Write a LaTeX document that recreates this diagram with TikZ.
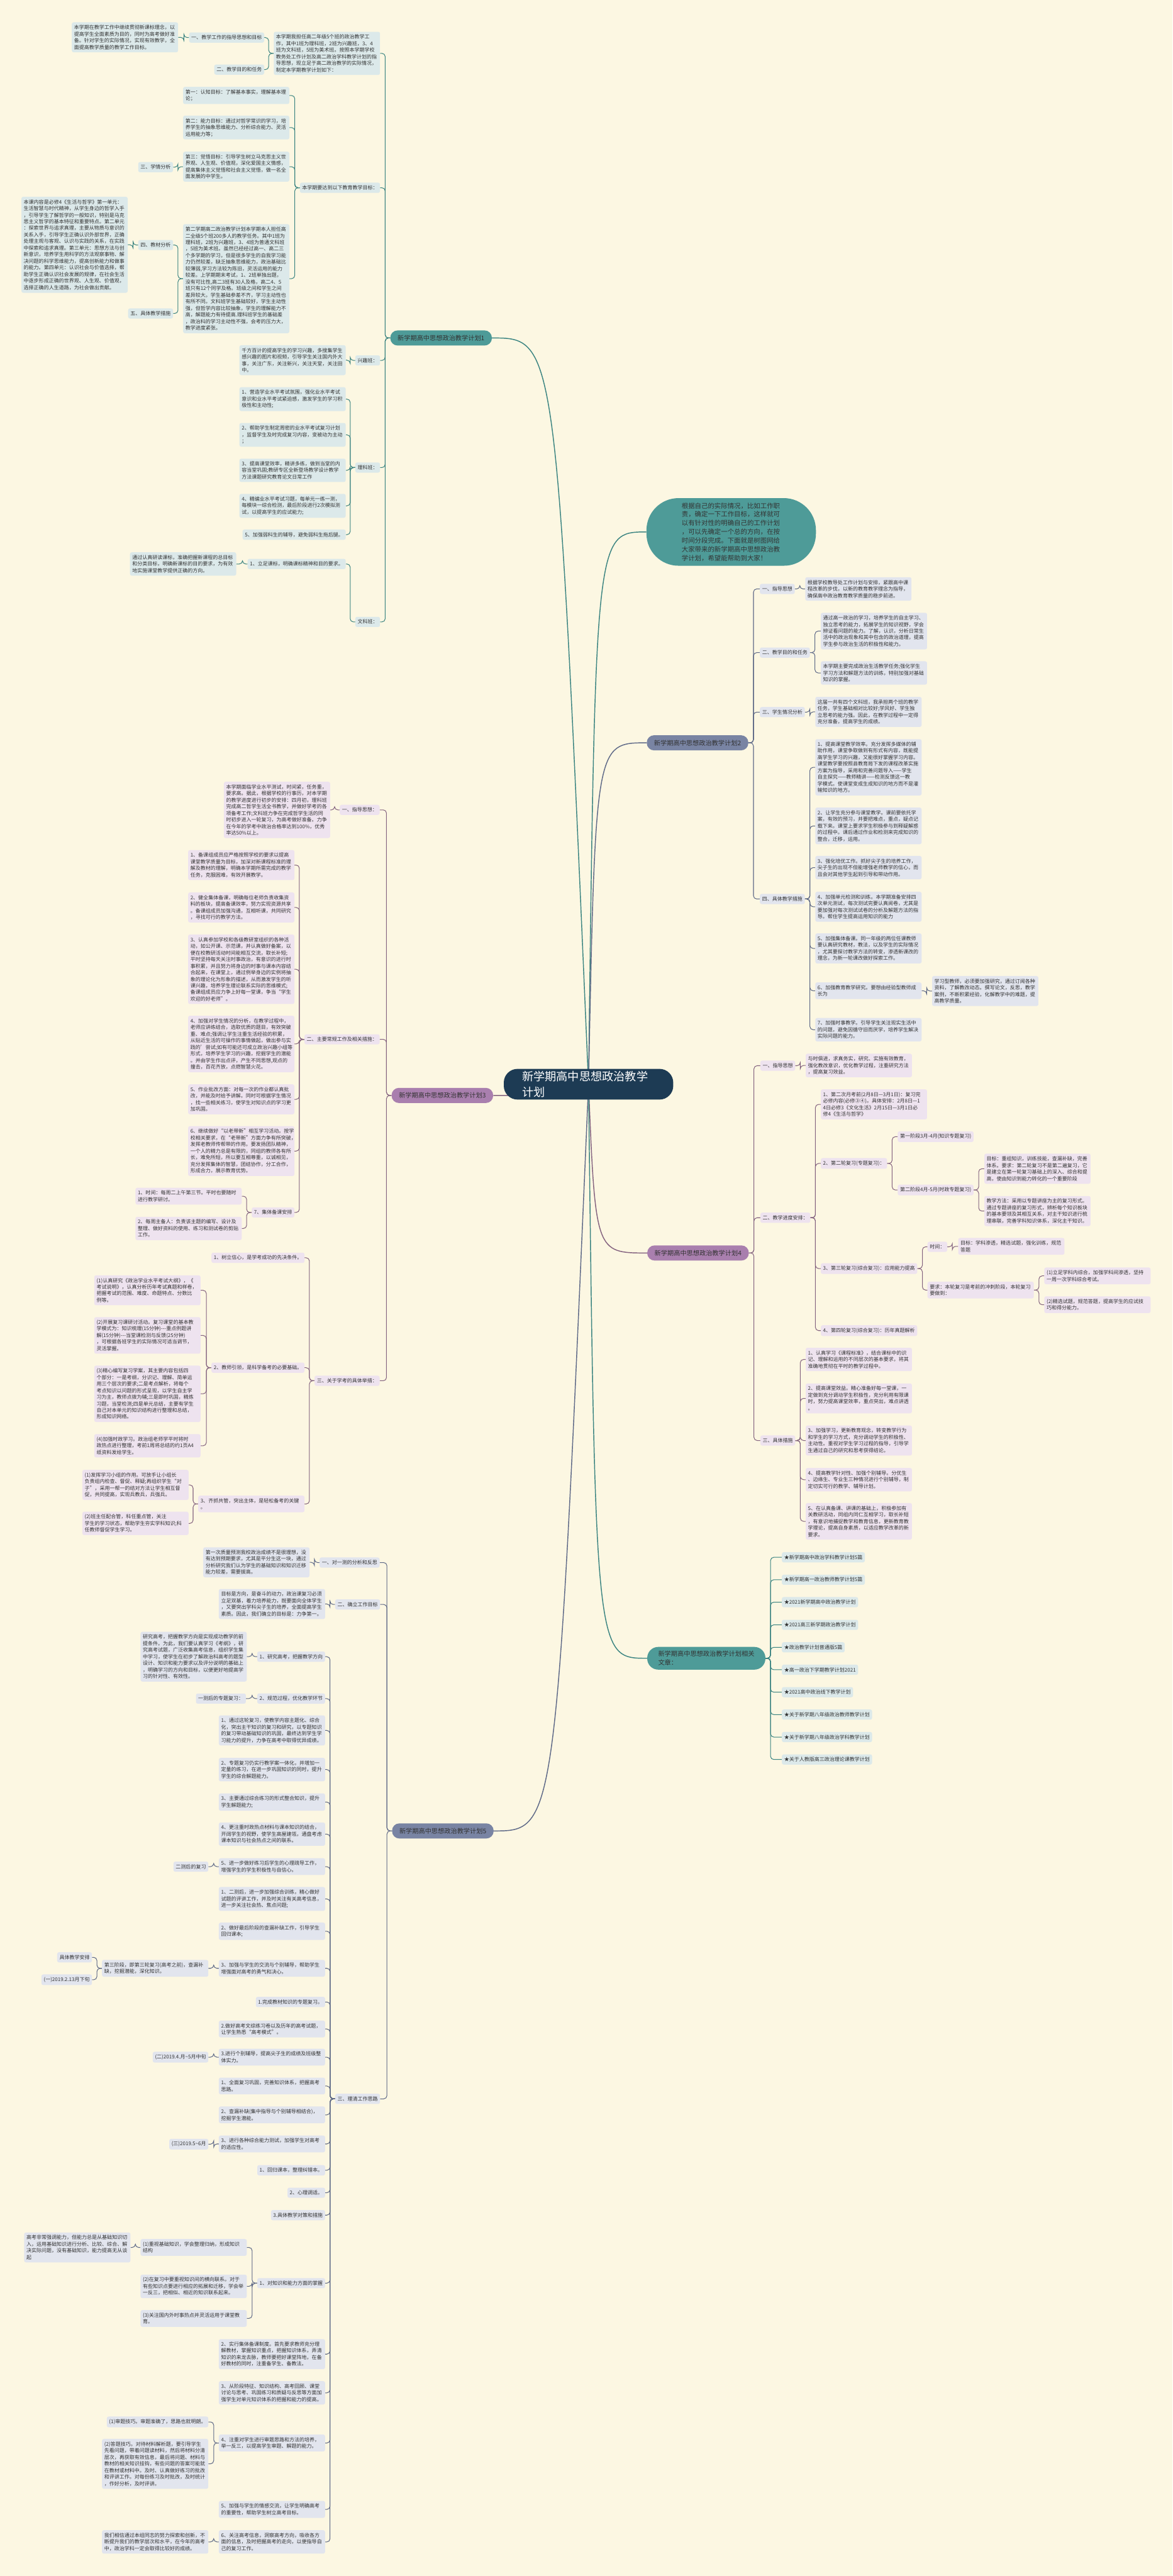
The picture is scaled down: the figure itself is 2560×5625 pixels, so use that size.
\documentclass[tikz,border=0pt]{standalone}
\usepackage{fontspec}
\setmainfont{Noto Sans CJK SC}
\pgfdeclarelayer{bgl}
\pgfdeclarelayer{lines}
\pgfsetlayers{bgl,lines,main}
\definecolor{bg}{HTML}{FCF7E2}
\definecolor{rootc}{HTML}{1D3B54}
\definecolor{tealm}{HTML}{4E9B98}
\definecolor{tealb}{HTML}{DCE9EA}
\definecolor{tealc}{HTML}{3B8481}
\definecolor{slatem}{HTML}{7984A3}
\definecolor{slateb}{HTML}{E2E5EE}
\definecolor{slatec}{HTML}{5E6987}
\definecolor{purpm}{HTML}{A97FAE}
\definecolor{purpb}{HTML}{EEE3EF}
\definecolor{purpc}{HTML}{84637F}
\definecolor{txt}{HTML}{333333}
\tikzset{
  box/.style={rounded corners=4pt, inner xsep=5pt, inner ysep=6pt, align=left,
    font=\fontsize{11}{14.4}\selectfont, text=txt},
  tb/.style={box, fill=tealb},
  sb/.style={box, fill=slateb},
  pb/.style={box, fill=purpb},
  tw/.style={text width=222pt},
  mnode/.style={rounded corners=16pt, inner xsep=16pt, inner ysep=10pt,
    font=\fontsize{14}{18}\selectfont, text=txt},
  lt/.style={draw=tealc, line width=1.4pt, rounded corners=7pt},
  ls/.style={draw=slatec, line width=1.4pt, rounded corners=7pt},
  lp/.style={draw=purpc, line width=1.4pt, rounded corners=7pt},
  rt/.style={draw=tealc, line width=2pt},
  rs/.style={draw=slatec, line width=2pt},
  rp/.style={draw=purpc, line width=2pt}
}
\newcommand\conL[3]{\draw[#1] (#2.west) -- ++(-11,0) |- (#3.east);}
\newcommand\conR[3]{\draw[#1] (#2.east) -- ++(11,0) |- (#3.west);}
\begin{document}
\begin{tikzpicture}[x=1pt,y=-1pt]
\begin{pgfonlayer}{bgl}
\fill[bg] (0,0) rectangle (2560,5625);
\end{pgfonlayer}
\useasboundingbox (0,0) rectangle (2560,5625);

% ---------------- root ----------------
\node[fill=rootc, text=white, rounded corners=30pt, minimum width=370pt, minimum height=67pt,
  text width=290pt, align=left, font=\fontsize{25}{33}\selectfont, inner sep=0pt]
  (root) at (1285,2367.5) {新学期高中思想政治教学\\计划};

% ---------------- branch 1 ----------------
\node[mnode, fill=tealm, anchor=west] (m1) at (852,738) {新学期高中思想政治教学计划1};
\node[tb, tw, anchor=east] (a1) at (830,116.5) {本学期我担任高二年级5个班的政治教学工\\作，其中1班为理科班，2班为兴趣班，3、4\\班为文科班，5班为美术班。按照本学期学校\\教务处工作计划及高二政治学科教学计划的指\\导思想，现立足于高二政治教学的实际情况，\\制定本学期教学计划如下：};
\node[tb, anchor=east] (a11) at (577,82) {一、教学工作的指导思想和目标};
\node[tb, tw, anchor=east] (a111) at (389,81.5) {本学期在教学工作中继续贯彻新课标理念，以\\提高学生全面素质为目的，同时为高考做好准\\备。针对学生的实际情况，实现有效教学，全\\面提高教学质量的教学工作目标。};
\node[tb, anchor=east] (a12) at (577,152) {二、教学目的和任务};
\node[tb, anchor=east] (a2) at (830,410) {本学期要达到以下教育教学目标：};
\node[tb, tw, anchor=east] (a21) at (632,208.5) {第一：认知目标：了解基本事实，理解基本理\\论；};
\node[tb, tw, anchor=east] (a22) at (632,278.5) {第二：能力目标：通过对哲学常识的学习，培\\养学生的抽象思维能力、分析综合能力、灵活\\运用能力等；};
\node[tb, tw, anchor=east] (a23) at (632,364) {第三：觉悟目标：引导学生树立马克思主义世\\界观、人生观、价值观，深化爱国主义情感，\\提高集体主义觉悟和社会主义觉悟，做一名全\\面发展的中学生。};
\node[tb, anchor=east] (a231) at (378,365) {三、学情分析};
\node[tb, tw, anchor=east] (a24) at (632,608.5) {第二学期高二政治教学计划本学期本人担任高\\二全级5个班200多人的教学任务。其中1班为\\理科班，2班为兴趣班，3、4班为普通文科班\\，5班为美术班。虽然已经经过高一、高二三\\个多学期的学习，但是很多学生的自我学习能\\力仍然较差，缺乏抽象思维能力，政治基础比\\较薄弱,学习方法较为陈旧，灵活运用的能力\\较差。上学期期末考试，1、2班单独出题，\\没有可比性,高二3班有30人及格，高二4、5\\班只有12个同学及格。班级之间和学生之间\\差异较大。学生基础参差不齐，学习主动性也\\有所不同。文科班学生基础较好，学生主动性\\强，但哲学内容比较抽象，学生的理解能力不\\高，解题能力有待提高.理科班学生的基础差\\，政治科的学习主动性不强，会考的压力大，\\教学进度紧张。};
\node[tb, anchor=east] (a241) at (378,535) {四、教材分析};
\node[tb, tw, anchor=east] (a2411) at (279,534.5) {本课内容是必修4《生活与哲学》第一单元：\\生活智慧与时代精神，从学生身边的哲学入手\\，引导学生了解哲学的一般知识，特别是马克\\思主义哲学的基本特征和重要特点。第二单元\\：探索世界与追求真理，主要从物质与意识的\\关系入手，引导学生正确认识外部世界，正确\\处理主观与客观、认识与实践的关系，在实践\\中探索和追求真理。第三单元：思想方法与创\\新意识，培养学生用科学的方法观察事物、解\\决问题的科学思维能力，提高创新能力和做事\\的能力。第四单元：认识社会与价值选择，帮\\助学生正确认识社会发展的规律，在社会生活\\中逐步形成正确的世界观、人生观、价值观，\\选择正确的人生道路，为社会做出贡献。};
\node[tb, anchor=east] (a242) at (378,684.5) {五、具体教学措施};
\node[tb, anchor=east] (a3) at (830,787) {兴趣班：};
\node[tb, tw, anchor=east] (a31) at (755,786.5) {千方百计的提高学生的学习兴趣，多搜集学生\\感兴趣的图片和视频，引导学生关注国内外大\\事，关注广东，关注新兴，关注天堂，关注田\\中。};
\node[tb, anchor=east] (a4) at (830,1021) {理科班：};
\node[tb, tw, anchor=east] (a41) at (755,871.5) {1、营造学业水平考试氛围，强化业水平考试\\意识和业水平考试紧迫感，激发学生的学习积\\极性和主动性;};
\node[tb, tw, anchor=east] (a42) at (755,949.5) {2、帮助学生制定周密的业水平考试复习计划\\，监督学生及时完成复习内容，变被动为主动\\；};
\node[tb, tw, anchor=east] (a43) at (755,1027) {3、提高课堂效率，精讲多练，做到当堂的内\\容当堂巩固;教研专区全新登场教学设计教学\\方法课题研究教育论文日常工作};
\node[tb, tw, anchor=east] (a44) at (755,1104.5) {4、精编业水平考试习题，每单元一练一测，\\每模块一综合检测，最后阶段进行2次模拟测\\试，以提高学生的应试能力;};
\node[tb, anchor=east] (a45) at (755,1167.5) {5、加强弱科生的辅导，避免弱科生拖后腿。};
\node[tb, anchor=east] (a5) at (830,1358) {文科班：};
\node[tb, anchor=east] (a51) at (755,1231.5) {1、立足课标，明确课标精神和目的要求。};
\node[tb, tw, anchor=east] (a511) at (516,1231.5) {通过认真研读课标，准确把握新课程的总目标\\和分类目标，明确新课标的目的要求，为有效\\地实施课堂教学提供正确的方向。};

% ---------------- summary bubble ----------------
\node[fill=tealm, rounded corners=70pt, text width=216pt, inner xsep=77pt, inner ysep=10pt,
  align=left, font=\fontsize{14.3}{19}\selectfont, text=txt] (bub) at (1596.5,1161.5)
  {根据自己的实际情况，比如工作职\\责，确定一下工作目标，这样就可\\以有针对性的明确自己的工作计划\\，可以先确定一个总的方向，在按\\时间分段完成。下面就是树图网给\\大家带来的新学期高中思想政治教\\学计划，希望能帮助到大家！};

% ---------------- branch 2 ----------------
\node[mnode, fill=slatem, anchor=west] (m2) at (1412,1622) {新学期高中思想政治教学计划2};
\node[sb, anchor=west] (b1) at (1659,1286) {一、指导思想};
\node[sb, tw, anchor=west] (b11) at (1758,1286) {根据学校教导处工作计划与安排，紧跟高中课\\程改革的步伐，以新的教育教学理念为指导，\\确保高中政治教育教学质量的稳步前进。};
\node[sb, anchor=west] (b2) at (1659,1425) {二、教学目的和任务};
\node[sb, tw, anchor=west] (b21) at (1792,1378) {通过高一政治的学习，培养学生的自主学习、\\独立思考的能力，拓展学生的知识视野，学会\\辨证看问题的能力。了解，认识，分析日常生\\活中的政治现象和其中包含的政治道理，提高\\学生参与政治生活的积极性和能力。};
\node[sb, tw, anchor=west] (b22) at (1792,1469.5) {本学期主要完成政治生活教学任务;强化学生\\学习方法和解题方法的训练，特别加强对基础\\知识的掌握。};
\node[sb, anchor=west] (b3) at (1659,1555) {三、学生情况分析};
\node[sb, tw, anchor=west] (b31) at (1780,1554.5) {这届一共有四个文科班，我承担两个班的教学\\任务，学生基础相对比较好;学风好、学生独\\立思考的能力强。因此，在教学过程中一定得\\充分准备，提高学生的成绩。};
\node[sb, anchor=west] (b4) at (1659,1963) {四、具体教学措施};
\node[sb, tw, anchor=west] (b41) at (1780,1675.5) {1、提高课堂教学效率。充分发挥多媒体的辅\\助作用，课堂争取做到有形式有内容，既能提\\高学生学习的兴趣，又能很好掌握学习内容。\\课堂教学要按照县教育局下发的课程改革实施\\方案为指导，采用和完善问题导入——学生\\自主探究——教师精讲——检测反馈这一教\\学模式。使课堂变成生成知识的地方而不是灌\\输知识的地方。};
\node[sb, tw, anchor=west] (b42) at (1780,1803.5) {2、让学生充分参与课堂教学。课前要依托学\\案，有效的预习，并要把难点，重点，疑点记\\载下来。课堂上要求学生积极参与到释疑解惑\\的过程中。课后通过作业和检测来完成知识的\\整合，迁移，运用。};
\node[sb, tw, anchor=west] (b43) at (1780,1894.5) {3、强化培优工作。抓好尖子生的培养工作，\\尖子生的出现不但能增强老师教学的信心，而\\且会对其他学生起到引导和带动作用。};
\node[sb, tw, anchor=west] (b44) at (1780,1980) {4、加强单元检测和训练。本学期准备安排四\\次单元测试，每次测试完要认真阅卷，尤其是\\要加强对每次测试试卷的分析及解题方法的指\\导。帮住学生提高运用知识的能力};
\node[sb, tw, anchor=west] (b45) at (1780,2071) {5、加强集体备课。同一年级的两位任课教师\\要认真研究教材，教法，以及学生的实际情况\\，尤其要探讨教学方法的转变，渗透新课改的\\理念，为新一轮课改做好探索工作。};
\node[sb, tw, anchor=west] (b46) at (1780,2163.5) {6、加强教育教学研究。要想由经验型教师成\\长为};
\node[sb, tw, anchor=west] (b461) at (2035,2164) {学习型教师，必须要加强研究，通过订阅各种\\资料，了解教改动态。撰写论文，反思，教学\\案例，不断积累经验，化解教学中的难题，提\\高教学质量。};
\node[sb, tw, anchor=west] (b47) at (1780,2248.5) {7、加强时事教学。引导学生关注现实生活中\\的问题，避免因循守旧而厌学，培养学生解决\\实际问题的能力。};

% ---------------- branch 3 ----------------
\node[mnode, fill=purpm, anchor=east] (m3) at (1077,2392) {新学期高中思想政治教学计划3};
\node[pb, anchor=east] (d1) at (829,1768.5) {一、指导思想：};
\node[pb, tw, anchor=east] (d11) at (721,1768.5) {本学期面临学业水平测试，时间紧，任务重，\\要求高。据此，根据学校的行事历，对本学期\\的教学进度进行初步的安排：四月初，理科班\\完成高二哲学生活全书教学，并做好学考的各\\项备考工作;文科班力争在完成哲学生活的同\\时初步进入一轮复习，为高考做好准备。力争\\在今年的学考中政治合格率达到100\%，优秀\\率达50\%以上。};
\node[pb, anchor=east] (d2) at (829,2269.5) {二、主要常规工作及相关措施：};
\node[pb, tw, anchor=east] (d21) at (643,1889) {1、备课组成员应严格按照学校的要求以提高\\课堂教学质量为目标，加深对新课程标准的理\\解及教材的理解，明确本学期所需完成的教学\\任务，克服困难，有效开展教学。};
\node[pb, tw, anchor=east] (d22) at (643,1981.5) {2、健全集体备课，明确每位老师负责收集资\\料的板块，提高备课效率，努力实现资源共享\\。备课组成员加强沟通，互相听课，共同研究\\，寻找可行的教学方法。};
\node[pb, tw, anchor=east] (d23) at (643,2116.5) {3、认真参加学校和各级教研室组织的各种活\\动，如公开课、示范课，并认真做好备案，以\\便在校教研活动时间能相互交流，取长补短;\\平时坚持每天关注时事政治，有意识的进行时\\事积累，并且努力将身边的时事与课本内容结\\合起来，在课堂上，通过例举身边的实例将抽\\象的理论化为形象的描述，从而激发学生的听\\课兴趣，培养学生理论联系实际的思维模式;\\备课组成员应力争上好每一堂课，争当“学生\\欢迎的好老师”。};
\node[pb, tw, anchor=east] (d24) at (643,2279.5) {4、加强对学生情况的分析，在教学过程中，\\老师应讲练结合，选取优质的题目，有效突破\\重、难点;强调让学生注重生活经验的积累，\\从贴近生活的可操作的事情做起，做出参与实\\践的'尝试;如有可能还可成立政治兴趣小组等\\形式，培养学生学习的兴趣，挖掘学生的潜能\\。并由学生作出点评，产生不同思想,观点的\\撞击，百花齐放，点燃智慧火花。};
\node[pb, tw, anchor=east] (d25) at (643,2400.5) {5、作业批改方面：对每一次的作业都认真批\\改，并能及时给予讲解。同时可根据学生情况\\，找一些相关练习，使学生对知识点的学习更\\加巩固。};
\node[pb, tw, anchor=east] (d26) at (643,2513.5) {6、继续做好“以老带新”相互学习活动。按学\\校相关要求，在“老带新”方面力争有所突破，\\发挥老教师传帮带的作用。要发扬团队精神，\\一个人的精力总是有限的，同组的教师各有所\\长，难免所短，所以要互相尊重，以诚相见，\\充分发挥集体的智慧，团结协作，分工合作，\\形成合力，展示教育优势。};
\node[pb, anchor=east] (d27) at (643,2647.5) {7、集体备课安排};
\node[pb, tw, anchor=east] (d271) at (528,2612) {1、时间：每周二上午第三节。平时也要随时\\进行教学研讨。};
\node[pb, tw, anchor=east] (d272) at (528,2682.5) {2、每周主备人：负责该主题的编写、设计及\\整理、做好资料的使用、练习和测试卷的剪贴\\工作。};
\node[pb, anchor=east] (d3) at (829,3015) {三、关于学考的具体举措：};
\node[pb, anchor=east] (d31) at (665,2746.5) {1、树立信心，是学考成功的先决条件。};
\node[pb, anchor=east] (d32) at (665,2986.5) {2、教师引领，是科学备考的必要基础。};
\node[pb, tw, anchor=east] (d321) at (438,2817.5) {(1)认真研究《政治学业水平考试大纲》，《\\考试说明》，认真分析历年考试真题和样卷，\\把握考试的范围、难度、命题特点、分数比\\例等。};
\node[pb, tw, anchor=east] (d322) at (438,2916) {(2)开展复习课研讨活动。复习课堂的基本教\\学模式为：知识梳理(15分钟)-{}-{}-重点例题讲\\解(15分钟)-{}-{}-当堂课检测与反馈(25分钟)\\，可根据各班学生的实际情况可适当调节，\\灵活掌握。};
\node[pb, tw, anchor=east] (d323) at (438,3043.5) {(3)精心编写复习学案，其主要内容包括四\\个部分：一是考纲，分识记、理解、简单运\\用三个层次的要求;二是考点解析，将每个\\考点知识以问题的形式呈现，以学生自主学\\习为主，教师点拨为辅;三是即时巩固，精炼\\习题，当堂检测;四是单元总结，主要有学生\\自己对本单元的知识结构进行整理和总结，\\形成知识网络。};
\node[pb, tw, anchor=east] (d324) at (438,3157) {(4)加强时政学习。政治组老师学平时将时\\政热点进行整理，考前1周将总结的约1页A4\\纸资料发给学生。};
\node[pb, tw, anchor=east] (d33) at (665,3284) {3、齐抓共管，突出主体，是轻松备考的关键\\。};
\node[pb, tw, anchor=east] (d331) at (412,3242.5) {(1)发挥学习小组的作用。可放手让小组长\\负责组内检查、督促、释疑;再组织学生“对\\子”，采用一帮一的结对方法让学生相互督\\促，共同提高，实现兵教兵，兵强兵。};
\node[pb, tw, anchor=east] (d332) at (412,3326.5) {(2)班主任配合管，科任重点管，关注\\学生的学习状态，帮助学生夯实学科知识;科\\任教师督促学生学习。};

% ---------------- branch 4 ----------------
\node[mnode, fill=purpm, anchor=west] (m4) at (1413,2736) {新学期高中思想政治教学计划4};
\node[pb, anchor=west] (e1) at (1660,2327) {一、指导思想};
\node[pb, tw, anchor=west] (e11) at (1759,2326.5) {与时俱进，求真务实，研究、实施有效教育，\\强化教改意识，优化教学过程，注重研究方法\\，提高复习效益。};
\node[pb, anchor=west] (e2) at (1660,2659) {二、教学进度安排：};
\node[pb, tw, anchor=west] (e21) at (1792,2411.5) {1、第二次月考前(2月8日—3月1日)：复习完\\必修内容(必修③④)。具体安排：2月8日—1\\4日必修3《文化生活》2月15日—3月1日必\\修4《生活与哲学》};
\node[pb, anchor=west] (e22) at (1792,2540.5) {2、第二轮复习(专题复习)：};
\node[pb, anchor=west] (e221) at (1960,2482) {第一阶段3月-4月(知识专题复习)};
\node[pb, anchor=west] (e222) at (1960,2598.5) {第二阶段4月-5月(时政专题复习)};
\node[pb, tw, anchor=west] (e2221) at (2149,2552) {目标：重组知识，训练技能，查漏补缺，完善\\体系。要求：第二轮复习不是第二遍复习，它\\是建立在第一轮复习基础上的深入、综合和提\\高，使由知识到能力转化的一个重要阶段};
\node[pb, tw, anchor=west] (e2222) at (2149,2644.5) {教学方法：采用以专题讲座为主的复习形式。\\通过专题讲座的复习形式，辨析每个知识板块\\的基本要领及其相互关系，对主干知识进行梳\\理串联，完善学科知识体系，深化主干知识。};
\node[pb, anchor=west] (e23) at (1792,2770) {3、第三轮复习(综合复习)：应用能力提高};
\node[pb, anchor=west] (e231) at (2025,2722.5) {时间：};
\node[pb, tw, anchor=west] (e2311) at (2092,2721.5) {目标：学科渗透，精选试题，强化训练，规范\\答题};
\node[pb, tw, anchor=west] (e232) at (2025,2817) {要求：本轮复习是考前的冲刺阶段，本轮复习\\要做到：};
\node[pb, tw, anchor=west] (e2321) at (2280,2786) {(1)立足学科内综合，加强学科间渗透，坚持\\一周一次学科综合考试。};
\node[pb, tw, anchor=west] (e2322) at (2280,2849) {(2)精选试题，规范答题，提高学生的应试技\\巧和得分能力。};
\node[pb, anchor=west] (e24) at (1792,2905.5) {4、第四轮复习(综合复习)：历年真题解析};
\node[pb, anchor=west] (e3) at (1660,3145.5) {三、具体措施};
\node[pb, tw, anchor=west] (e31) at (1759,2968.5) {1、认真学习《课程标准》，结合课标中的识\\记、理解和运用的不同层次的基本要求，将其\\准确地贯彻在平时的教学过程中。};
\node[pb, tw, anchor=west] (e32) at (1759,3053.5) {2、提高课堂效益。精心准备好每一堂课，一\\定做到充分调动学生积极性，充分利用有限课\\时，努力提高课堂效率，重点突出，难点讲透\\。};
\node[pb, tw, anchor=west] (e33) at (1759,3145.5) {3、加强学习，更新教育观念，转变教学行为\\和学生的学习方式，充分调动学生的积极性、\\主动性。重视对学生学习过程的指导，引导学\\生通过自己的研究和思考获得结论。};
\node[pb, tw, anchor=west] (e34) at (1759,3231) {4、提高教学针对性、加强个别辅导。分优生\\、边缘生、专业生三种情况进行个别辅导，制\\定切实可行的教学、辅导计划。};
\node[pb, tw, anchor=west] (e35) at (1759,3322) {5、在认真备课、讲课的基础上，积极参加有\\关教研活动，同组内同仁互相学习，取长补短\\，有意识地捕捉教学和教育信息，更新教育教\\学理论，提高自身素质，以适应教学改革的新\\要求。};

% ---------------- related ----------------
\node[mnode, fill=tealm, anchor=west, align=left, rounded corners=24pt, inner xsep=24pt, inner ysep=9pt,
  font=\fontsize{14}{18.6}\selectfont] (r0) at (1413,3621) {新学期高中思想政治教学计划相关\\文章：};
\node[tb, anchor=west] (r1) at (1707,3400.5) {★新学期高中政治学科教学计划5篇};
\node[tb, anchor=west] (r2) at (1707,3449.5) {★新学期高一政治教师教学计划5篇};
\node[tb, anchor=west] (r3) at (1707,3498.5) {★2021新学期高中政治教学计划};
\node[tb, anchor=west] (r4) at (1707,3548) {★2021高三新学期政治教学计划};
\node[tb, anchor=west] (r5) at (1707,3597) {★政治教学计划普通版5篇};
\node[tb, anchor=west] (r6) at (1707,3646) {★高一政治下学期教学计划2021};
\node[tb, anchor=west] (r7) at (1707,3695) {★2021高中政治线下教学计划};
\node[tb, anchor=west] (r8) at (1707,3744) {★关于新学期八年级政治教师教学计划};
\node[tb, anchor=west] (r9) at (1707,3793) {★关于新学期八年级政治学科教学计划};
\node[tb, anchor=west] (r10) at (1707,3842) {★关于人教版高三政治理论课教学计划};

% ---------------- branch 5 ----------------
\node[mnode, fill=slatem, anchor=east] (m5) at (1078,3998) {新学期高中思想政治教学计划5};
\node[sb, anchor=east] (f1) at (829,3412) {一、对一测的分析和反思};
\node[sb, tw, anchor=east] (f11) at (676,3411.5) {第一次质量预测我校政治成绩不是很理想，没\\有达到预期要求，尤其是平分生这一块，通过\\分析研究我们认为学生的基础知识和知识迁移\\能力较差，需要拔高。};
\node[sb, anchor=east] (f2) at (830,3503.5) {二、确立工作目标};
\node[sb, tw, anchor=east] (f21) at (710,3502.5) {目标是方向，是奋斗的动力，政治课复习必须\\立足双基，着力培养能力，既要面向全体学生\\，又要突出学科尖子生的培养，全面提高学生\\素质。因此，我们确立的目标是：力争第一。};
\node[sb, anchor=east] (f3) at (830,4583) {三、理清工作思路};
\node[sb, anchor=east] (g01) at (710,3617.5) {1、研究高考，把握教学方向};
\node[sb, tw, anchor=east] (g011) at (539,3617.5) {研究高考，把握教学方向是实现成功教学的前\\提条件。为此，我们要认真学习《考纲》，研\\究高考试题，广泛收集高考信息，组织学生集\\中学习，使学生在初步了解政治科高考的题型\\设计、知识和能力要求以及评分说明的基础上\\，明确学习的方向和目标，以便更好地提高学\\习的针对性、有效性。};
\node[sb, anchor=east] (g02) at (710,3709) {2、规范过程，优化教学环节};
\node[sb, anchor=east] (g021) at (537,3709) {一测后的专题复习：};
\node[sb, tw, anchor=east] (g03) at (710,3778.5) {1、通过这轮复习，使教学内容主题化、综合\\化，突出主干知识的复习和研究，以专题知识\\的复习带动基础知识的巩固，最终达到学生学\\习能力的提升，力争在高考中取得优异成绩。};
\node[sb, tw, anchor=east] (g04) at (710,3864) {2、专题复习仍实行教学案一体化，并增加一\\定量的练习，在进一步巩固知识的同时，提升\\学生的综合解题能力。};
\node[sb, tw, anchor=east] (g05) at (710,3935) {3、主要通过综合练习的形式整合知识，提升\\学生解题能力;};
\node[sb, tw, anchor=east] (g06) at (710,4005) {4、更注重时政热点材料与课本知识的结合，\\开阔学生的视野，使学生高屋建瓴，通盘考虑\\课本知识与社会热点之间的联系。};
\node[sb, tw, anchor=east] (g07) at (710,4076) {5、进一步做好练习后学生的心理疏导工作，\\增强学生的学生积极性与自信心。};
\node[sb, anchor=east] (g071) at (455,4076) {二测后的复习};
\node[sb, tw, anchor=east] (g08) at (710,4146.5) {1、二测后，进一步加强综合训练，精心做好\\试题的评讲工作，并及时关注有关高考信息，\\进一步关注社会热、焦点问题;};
\node[sb, tw, anchor=east] (g09) at (710,4217) {2、做好最后阶段的查漏补缺工作，引导学生\\回归课本;};
\node[sb, tw, anchor=east] (g10) at (710,4298) {3、加强与学生的交流与个别辅导，帮助学生\\增强面对高考的勇气和决心。};
\node[sb, tw, anchor=east] (g101) at (455,4298) {第三阶段，即第三轮复习(高考之前)，查漏补\\缺，挖掘潜能，深化知识。};
\node[sb, anchor=east] (g1011) at (201,4274) {具体教学安排};
\node[sb, anchor=east] (g1012) at (201,4323) {(一)2019.2.13月下旬};
\node[sb, anchor=east] (g11) at (710,4371.5) {1.完成教材知识的专题复习。};
\node[sb, tw, anchor=east] (g12) at (710,4430.5) {2.做好高考文综练习卷以及历年的高考试题，\\让学生熟悉“高考模式”。};
\node[sb, tw, anchor=east] (g13) at (710,4492) {3.进行个别辅导，提高尖子生的成绩及班级整\\体实力。};
\node[sb, anchor=east] (g131) at (455,4492) {(二)2019.4.月\textasciitilde 5月中旬};
\node[sb, tw, anchor=east] (g14) at (710,4555) {1、全面复习巩固，完善知识体系，把握高考\\思路。};
\node[sb, tw, anchor=east] (g15) at (710,4618) {2、查漏补缺(集中指导与个别辅导相结合)，\\挖掘学生潜能。};
\node[sb, tw, anchor=east] (g16) at (710,4681.5) {3、进行各种综合能力测试，加强学生对高考\\的适应性。};
\node[sb, anchor=east] (g161) at (455,4682) {(三)2019.5\textasciitilde 6月};
\node[sb, anchor=east] (g17) at (710,4739) {1、回归课本，整理纠错本。};
\node[sb, anchor=east] (g18) at (710,4788) {2、心理调适。};
\node[sb, anchor=east] (g19) at (710,4837) {3.具体教学对策和措施};
\node[sb, anchor=east] (g20) at (710,4985.5) {1、对知识和能力方面的掌握};
\node[sb, tw, anchor=east] (g201) at (539,4907.5) {(1)重视基础知识，学会整理归纳，形成知识\\结构};
\node[sb, tw, anchor=east] (g2011) at (285,4907.5) {高考非常强调能力，但能力总是从基础知识切\\入，运用基础知识进行分析、比较、综合、解\\决实际问题，没有基础知识，能力提高无从谈\\起};
\node[sb, tw, anchor=east] (g202) at (539,4992.5) {(2)在复习中要重视知识间的横向联系。对于\\有些知识点要进行相应的拓展和迁移，学会举\\一反三，把相似、相近的知识联系起来。};
\node[sb, tw, anchor=east] (g203) at (539,5062.5) {(3)关注国内外时事热点并灵活运用于课堂教\\育。};
\node[sb, tw, anchor=east] (g21) at (710,5140.5) {2、实行集体备课制度。首先要求教师充分理\\解教材，掌握知识重点，把握知识体系，弄清\\知识的来龙去脉，教师要把好课堂阵地，在备\\好教材的同时，注重备学生、备教法。};
\node[sb, tw, anchor=east] (g22) at (710,5225) {3、从阶段特征、知识结构、高考回顾、课堂\\讨论与思考、巩固练习和质疑与反思等方面加\\强学生对单元知识体系的把握和能力的提高。};
\node[sb, tw, anchor=east] (g23) at (710,5334.5) {4、注重对学生进行审题思路和方法的培养，\\举一反三，以提高学生审题、解题的能力。};
\node[sb, anchor=east] (g231) at (455,5288.5) {(1)审题技巧。审题准确了，思路也就明朗。};
\node[sb, tw, anchor=east] (g232) at (455,5380) {(2)答题技巧。对待材料解析题，要引导学生\\先看问题，带着问题读材料，然后将材料分清\\层次，再获取有效信息，最后将问题、材料与\\教材的相关知识挂钩，有些问题的答案可能就\\在教材或材料中。及时、认真做好练习的批改\\和评讲工作。对每份练习及时批改，及时统计\\，作好分析，及时评讲。};
\node[sb, tw, anchor=east] (g24) at (710,5479.5) {5、加强与学生的情感交流，让学生明确高考\\的重要性，帮助学生树立高考目标。};
\node[sb, tw, anchor=east] (g25) at (710,5550.5) {6、关注高考信息，洞察高考方向，吸收各方\\面的信息，及时把握高考的走向，以便指导自\\己的复习工作。};
\node[sb, tw, anchor=east] (g251) at (455,5550.5) {我们相信通过本组同志的努力探索和创新，不\\断提升我们的教学层次和水平，在今年的高考\\中，政治学科一定会取得比较好的成绩。};

% ---------------- connectors ----------------
\begin{pgfonlayer}{lines}
\draw[rt] (root.center) .. controls (1215,738) and (1215,738) .. (m1.east);
\draw[rt] (root.center) .. controls (1300,1162) and (1300,1162) .. (bub.west);
\draw[rs] (root.center) .. controls (1300,1622) and (1300,1622) .. (m2.west);
\draw[rp] (root.center) .. controls (1215,2392) and (1215,2392) .. (m3.east);
\draw[rp] (root.center) .. controls (1300,2736) and (1300,2736) .. (m4.west);
\draw[rt] (root.center) .. controls (1300,3621) and (1300,3621) .. (r0.west);
\draw[rs] (root.center) .. controls (1215,3998) and (1215,3998) .. (m5.east);
% branch 1
\foreach \c in {a1,a2,a3,a4,a5} {\conL{lt}{m1}{\c}}
\conL{lt}{a1}{a11} \conL{lt}{a1}{a12} \conL{lt}{a11}{a111}
\foreach \c in {a21,a22,a23,a24} {\conL{lt}{a2}{\c}}
\conL{lt}{a23}{a231} \conL{lt}{a24}{a241} \conL{lt}{a24}{a242} \conL{lt}{a241}{a2411}
\conL{lt}{a3}{a31}
\foreach \c in {a41,a42,a43,a44,a45} {\conL{lt}{a4}{\c}}
\conL{lt}{a5}{a51} \conL{lt}{a51}{a511}
% branch 2
\foreach \c in {b1,b2,b3,b4} {\conR{ls}{m2}{\c}}
\conR{ls}{b1}{b11} \conR{ls}{b2}{b21} \conR{ls}{b2}{b22} \conR{ls}{b3}{b31}
\foreach \c in {b41,b42,b43,b44,b45,b46,b47} {\conR{ls}{b4}{\c}}
\conR{ls}{b46}{b461}
% branch 3
\foreach \c in {d1,d2,d3} {\conL{lp}{m3}{\c}}
\conL{lp}{d1}{d11}
\foreach \c in {d21,d22,d23,d24,d25,d26,d27} {\conL{lp}{d2}{\c}}
\conL{lp}{d27}{d271} \conL{lp}{d27}{d272}
\foreach \c in {d31,d32,d33} {\conL{lp}{d3}{\c}}
\foreach \c in {d321,d322,d323,d324} {\conL{lp}{d32}{\c}}
\conL{lp}{d33}{d331} \conL{lp}{d33}{d332}
% branch 4
\foreach \c in {e1,e2,e3} {\conR{lp}{m4}{\c}}
\conR{lp}{e1}{e11}
\foreach \c in {e21,e22,e23,e24} {\conR{lp}{e2}{\c}}
\conR{lp}{e22}{e221} \conR{lp}{e22}{e222} \conR{lp}{e222}{e2221} \conR{lp}{e222}{e2222}
\conR{lp}{e23}{e231} \conR{lp}{e23}{e232} \conR{lp}{e231}{e2311}
\conR{lp}{e232}{e2321} \conR{lp}{e232}{e2322}
\foreach \c in {e31,e32,e33,e34,e35} {\conR{lp}{e3}{\c}}
% related
\foreach \c in {r1,r2,r3,r4,r5,r6,r7,r8,r9,r10} {\conR{lt}{r0}{\c}}
% branch 5
\foreach \c in {f1,f2,f3} {\conL{ls}{m5}{\c}}
\conL{ls}{f1}{f11} \conL{ls}{f2}{f21}
\foreach \c in {g01,g02,g03,g04,g05,g06,g07,g08,g09,g10,g11,g12,g13,g14,g15,g16,g17,g18,g19,g20,g21,g22,g23,g24,g25} {\conL{ls}{f3}{\c}}
\conL{ls}{g01}{g011} \conL{ls}{g02}{g021} \conL{ls}{g07}{g071}
\conL{ls}{g10}{g101} \conL{ls}{g101}{g1011} \conL{ls}{g101}{g1012}
\conL{ls}{g13}{g131} \conL{ls}{g16}{g161}
\conL{ls}{g20}{g201} \conL{ls}{g20}{g202} \conL{ls}{g20}{g203} \conL{ls}{g201}{g2011}
\conL{ls}{g23}{g231} \conL{ls}{g23}{g232} \conL{ls}{g25}{g251}
\end{pgfonlayer}
\end{tikzpicture}
\end{document}
